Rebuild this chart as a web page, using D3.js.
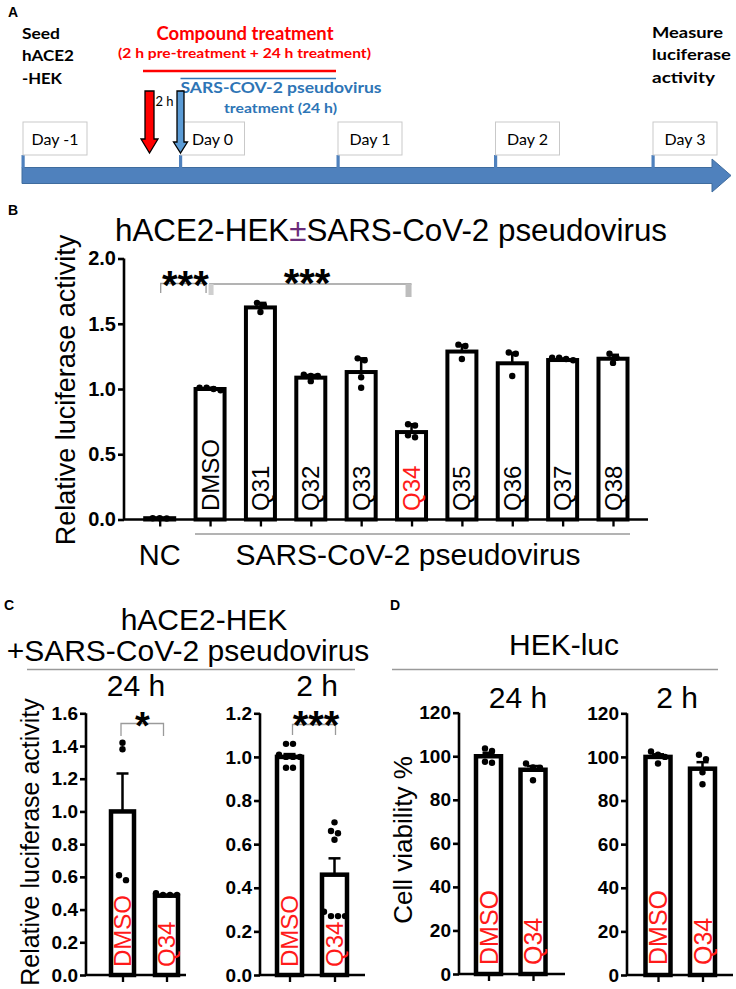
<!DOCTYPE html>
<html><head><meta charset="utf-8">
<script src="https://cdn.jsdelivr.net/npm/d3@7"></script>
<style>
body{margin:0;background:#fff}
svg{display:block}
text{font-family:"Liberation Sans",Arial,sans-serif}
</style></head>
<body><svg id="fig" width="736" height="989"></svg>
<script>
// ---------------- DATA ----------------
// Panel A timeline
const timelineDays = [-1, 0, 1, 2, 3];
const dayLabels = ["Day -1", "Day 0", "Day 1", "Day 2", "Day 3"];

// Panel B
const bCategories = ["NC","DMSO","Q31","Q32","Q33","Q34","Q35","Q36","Q37","Q38"];
const bMeans  = [0.01, 1.00, 1.625, 1.087, 1.13, 0.67, 1.287, 1.197, 1.222, 1.232];
const bErrors = [0.0, 0.01, 0.035, 0.02, 0.105, 0.06, 0.05, 0.08, 0.012, 0.03];
const bPoints = [
  [0.01, 0.008, 0.01],
  [0.99, 1.01, 1.01, 1.0],
  [1.66, 1.64, 1.59],
  [1.11, 1.06, 1.10, 1.10],
  [1.235, 1.22, 1.09, 1.01],
  [0.73, 0.72, 0.63, 0.645],
  [1.34, 1.33, 1.23],
  [1.28, 1.27, 1.10],
  [1.24, 1.23, 1.22, 1.24],
  [1.27, 1.24, 1.20]
];
const bYTicks = [0, 0.5, 1.0, 1.5, 2.0];

// Panel C (hACE2-HEK + pseudovirus)
const cGroups = ["DMSO", "Q34"];
const c24Means = [1.0, 0.485];
const c24Errors = [0.232, 0.004];
const c24Points = [[1.42, 1.38, 0.58, 0.61], [0.49, 0.50, 0.49, 0.49]];
const c24YTicks = [0, 0.2, 0.4, 0.6, 0.8, 1.0, 1.2, 1.4, 1.6];
const c2Means = [1.0, 0.46];
const c2Errors = [0.013, 0.075];
const c2Points = [[1.06, 1.06, 1.0, 1.0, 1.01, 1.0, 0.95, 0.95], [0.70, 0.66, 0.65, 0.62, 0.29, 0.27, 0.27, 0.27]];
const c2YTicks = [0, 0.2, 0.4, 0.6, 0.8, 1.0, 1.2];

// Panel D (HEK-luc viability)
const d24Means = [100, 93.8];
const d24Errors = [1.6, 1.7];
const d24Points = [[102.4, 103.6, 97, 97.5], [94.7, 96.7, 94.8, 89]];
const d2Means = [100, 94.6];
const d2Errors = [1.2, 3.0];
const d2Points = [[102.5, 101, 97, 100], [101, 99, 93, 87.5]];
const dYTicks = [0, 20, 40, 60, 80, 100, 120];

// ---------------- HELPERS ----------------
const svg = d3.select("#fig");
const RED = "#ff1a1a";

function txt(g, s, x, y, o = {}) {
  const t = g.append("text").attr("x", x).attr("y", y).text(s)
    .attr("font-size", o.size || 14)
    .attr("font-weight", o.weight || "normal")
    .attr("fill", o.fill || "#000")
    .attr("text-anchor", o.anchor || "start");
  if (o.family) t.style("font-family", o.family);
  if (o.width) t.attr("textLength", o.width).attr("lengthAdjust", "spacingAndGlyphs");
  if (o.rotate) t.attr("transform", `rotate(${o.rotate},${x},${y})`);
  if (o.baseline) t.attr("dominant-baseline", o.baseline);
  return t;
}

function swarm(vals, y, r) {
  const sorted = vals.map(v => ({ v })).sort((a, b) => b.v - a.v);
  const rows = [];
  sorted.forEach(p => {
    const py = y(p.v);
    const row = rows.find(rw => Math.abs(rw.y0 - py) < 2 * r);
    if (row) row.pts.push(p); else rows.push({ y0: py, pts: [p] });
  });
  const out = [];
  rows.forEach(rw => rw.pts.forEach((p, k) => out.push({ v: p.v, dx: (k - (rw.pts.length - 1) / 2) * (2 * r + 0.6) })));
  return out;
}

// generic bar chart with dots
function barChart(g, cfg) {
  const { cats, means, errors, points, yTicks, x, y, barW, barStroke, tickFmt, tickSize, labelColors, labelSize, labelBottom, axisX0, axisX1, axisStroke } = cfg;
  const yAx = d3.axisLeft(y).tickValues(yTicks).tickFormat(tickFmt).tickSizeOuter(0).tickSize(6).tickPadding(2);
  const ya = g.append("g").attr("transform", `translate(${axisX0},0)`).call(yAx);
  ya.select(".domain").attr("stroke-width", axisStroke).attr("d", `M0,${y(yTicks[yTicks.length-1])}V${y(0)}`);
  ya.selectAll(".tick line").attr("stroke-width", axisStroke);
  ya.selectAll(".tick text").attr("font-size", tickSize).attr("font-weight", "bold")
    .style("font-family", "'Liberation Sans',Arial,sans-serif").attr("fill", "#000");
  const xAx = d3.axisBottom(x).tickFormat("").tickSize(7).tickSizeOuter(0);
  const xa = g.append("g").attr("transform", `translate(0,${y(0)})`).call(xAx);
  xa.select(".domain").attr("stroke-width", axisStroke).attr("d", `M${axisX0},0H${axisX1}`);
  xa.selectAll(".tick line").attr("stroke-width", axisStroke * 0.9);
  g.selectAll(null).data(cats).enter().append("rect")
    .attr("x", d => x(d) - barW / 2)
    .attr("y", (d, i) => y(means[i]))
    .attr("width", barW)
    .attr("height", (d, i) => y(0) - y(means[i]))
    .attr("fill", "#fff").attr("stroke", "#000").attr("stroke-width", barStroke);
  cats.forEach((c, i) => {
    if (errors[i] <= 0) return;
    const cx = x(c), y0 = y(means[i]), y1 = y(means[i] + errors[i]);
    g.append("line").attr("x1", cx).attr("x2", cx).attr("y1", y0).attr("y2", y1).attr("stroke", "#000").attr("stroke-width", 2.5);
    g.append("line").attr("x1", cx - 6).attr("x2", cx + 6).attr("y1", y1).attr("y2", y1).attr("stroke", "#000").attr("stroke-width", 2.5);
  });
  cats.forEach((c, i) => {
    swarm(points[i], y, 3.2).forEach(p => {
      g.append("circle").attr("cx", x(c) + p.dx).attr("cy", y(p.v)).attr("r", 3.2).attr("fill", "#000");
    });
  });
  if (labelColors) {
    cats.forEach((c, i) => {
      if (!labelColors[i]) return;
      txt(g, c, x(c), labelBottom, { size: labelSize, fill: labelColors[i], rotate: -90, baseline: "central" });
    });
  }
}

// ---------------- PANEL A ----------------
(function () {
  const g = svg.append("g");
  const fA = "Lato,'Open Sans',sans-serif";
  txt(g, "A", 8, 17, { size: 14, weight: "bold" });
  const dx = d3.scaleLinear().domain([-1, 3]).range([23, 653]);
  g.append("path")
    .attr("d", `M22,167.5H712V159L731,175.5L712,192V183.5H22Z`)
    .attr("fill", "#4f81bd").attr("stroke", "#3f6c9e").attr("stroke-width", 1);
  g.selectAll(null).data(timelineDays).enter().append("rect")
    .attr("x", d => dx(d) - 1.5).attr("y", 155).attr("width", 3.2).attr("height", 13).attr("fill", "#4f81bd");
  g.selectAll(null).data(timelineDays).enter().append("rect")
    .attr("x", d => dx(d)).attr("y", 122).attr("width", 64).attr("height", 33)
    .attr("fill", "#fff").attr("stroke", "#c9c9c9").attr("stroke-width", 1);
  timelineDays.forEach((d, i) => txt(g, dayLabels[i], dx(d) + 32, 144.5, { size: 16, anchor: "middle", family: fA }));
  txt(g, "Seed", 22, 39, { size: 16, weight: "bold", family: fA, width: 38 });
  txt(g, "hACE2", 22, 61, { size: 16, weight: "bold", family: fA, width: 52 });
  txt(g, "-HEK", 22, 84, { size: 16, weight: "bold", family: fA, width: 40 });
  txt(g, "Measure", 652, 38, { size: 16, weight: "bold", family: fA, width: 71 });
  txt(g, "luciferase", 652, 60, { size: 16, weight: "bold", family: fA, width: 79 });
  txt(g, "activity", 652, 83, { size: 16, weight: "bold", family: fA, width: 63 });
  txt(g, "Compound treatment", 245, 40, { size: 18, weight: "bold", fill: "#ff0000", anchor: "middle", family: fA, width: 177 });
  txt(g, "(2 h pre-treatment + 24 h treatment)", 244.5, 58, { size: 14, weight: "bold", fill: "#ff0000", anchor: "middle", family: fA, width: 253 });
  g.append("line").attr("x1", 143).attr("x2", 336).attr("y1", 71).attr("y2", 71).attr("stroke", "#ff0000").attr("stroke-width", 2.5);
  g.append("line").attr("x1", dx(0)).attr("x2", 336).attr("y1", 78.5).attr("y2", 78.5).attr("stroke", "#2e75b6").attr("stroke-width", 1.6);
  txt(g, "SARS-COV-2 pseudovirus", dx(0), 93, { size: 16, weight: "bold", fill: "#2e75b6", family: fA, width: 201 });
  txt(g, "treatment (24 h)", 280.5, 113, { size: 13, weight: "bold", fill: "#2e75b6", anchor: "middle", family: fA, width: 113 });
  const ax0 = dx(0);
  function downArrow(cx, w, hw, top, neck, tip, fill) {
    g.append("path")
      .attr("d", `M${cx - w / 2},${top}H${cx + w / 2}V${neck}H${cx + hw / 2}L${cx},${tip}L${cx - hw / 2},${neck}H${cx - w / 2}Z`)
      .attr("fill", fill).attr("stroke", "#000").attr("stroke-width", 1.3);
  }
  downArrow(ax0 - 31, 9, 17, 91, 139, 153, "#ff0000");
  downArrow(ax0, 7, 14, 91, 142, 153, "#5b9bd5");
  txt(g, "2 h", ax0 - 25, 106, { size: 13, family: fA });
})();

// ---------------- PANEL B ----------------
(function () {
  const g = svg.append("g");
  txt(g, "B", 8, 215, { size: 14, weight: "bold" });
  const t = g.append("text").attr("x", 391).attr("y", 241).attr("text-anchor", "middle").attr("font-size", 31)
    .attr("textLength", 552).attr("lengthAdjust", "spacingAndGlyphs");
  t.append("tspan").text("hACE2-HEK");
  t.append("tspan").text("±").attr("fill", "#6b2c7a");
  t.append("tspan").text("SARS-CoV-2 pseudovirus");

  const y = d3.scaleLinear().domain([0, 2]).range([519.5, 258.5]);
  const x = d3.scalePoint().domain(bCategories).range([159.7, 613]);
  barChart(g, {
    cats: bCategories, means: bMeans, errors: bErrors, points: bPoints, yTicks: bYTicks,
    x, y, barW: 29, barStroke: 4, tickFmt: d3.format(".1f"), tickSize: 20,
    labelColors: bCategories.map(c => c === "NC" ? null : (c === "Q34" ? RED : "#000")),
    labelSize: 24, labelBottom: 511, axisX0: 124, axisX1: 648, axisStroke: 2.6
  });
  txt(g, "Relative luciferase activity", 75, 390, { size: 27, rotate: -90, anchor: "middle" });
  const gray = "#9a9a9a";
  g.append("path").attr("d", `M${x("NC") + 1},293V283.5H${x("DMSO") - 4}V293`).attr("fill", "none").attr("stroke", gray).attr("stroke-width", 1.3);
  txt(g, "***", (x("NC") + x("DMSO")) / 2 + 0.5, 299, { size: 40, weight: "bold", anchor: "middle" });
  g.append("path").attr("d", `M${x("DMSO") - 1},284H${x("Q34")}`).attr("fill", "none").attr("stroke", gray).attr("stroke-width", 1.3);
  g.append("rect").attr("x", x("DMSO") - 1.5).attr("y", 284).attr("width", 5).attr("height", 11).attr("fill", "#cfcfcf");
  g.append("rect").attr("x", x("Q34") - 6).attr("y", 284).attr("width", 6).attr("height", 13).attr("fill", "#bdbdbd");
  txt(g, "***", 307, 297, { size: 40, weight: "bold", anchor: "middle" });
  g.append("line").attr("x1", 195).attr("x2", 630).attr("y1", 534).attr("y2", 534).attr("stroke", "#9a9a9a").attr("stroke-width", 1.5);
  txt(g, "NC", x("NC"), 565, { size: 29, anchor: "middle" });
  txt(g, "SARS-CoV-2 pseudovirus", 408, 565, { size: 30, anchor: "middle" });
})();

// ---------------- PANEL C ----------------
(function () {
  const g = svg.append("g");
  txt(g, "C", 4, 610, { size: 14, weight: "bold" });
  txt(g, "hACE2-HEK", 204, 630, { size: 30, anchor: "middle" });
  txt(g, "+SARS-CoV-2 pseudovirus", 188, 661, { size: 30, anchor: "middle" });
  g.append("line").attr("x1", 27).attr("x2", 355).attr("y1", 669.5).attr("y2", 669.5).attr("stroke", "#9a9a9a").attr("stroke-width", 1.5);
  txt(g, "24 h", 136, 696, { size: 30, anchor: "middle" });
  txt(g, "2 h", 317, 696, { size: 30, anchor: "middle" });
  txt(g, "Relative luciferase activity", 39, 842, { size: 25, rotate: -90, anchor: "middle" });

  const gray = "#9a9a9a";
  const y1 = d3.scaleLinear().domain([0, 1.6]).range([975, 713.3]);
  const x1 = d3.scalePoint().domain(cGroups).range([122.5, 166.5]);
  barChart(g, {
    cats: cGroups, means: c24Means, errors: c24Errors, points: c24Points, yTicks: c24YTicks,
    x: x1, y: y1, barW: 23, barStroke: 4.5, tickFmt: d3.format(".1f"), tickSize: 19,
    labelColors: [RED, RED], labelSize: 24, labelBottom: 967, axisX0: 86, axisX1: 186, axisStroke: 2.6
  });
  g.append("path").attr("d", `M${x1("DMSO") - 1.5},736V723.5H${x1("Q34") - 3}V736`).attr("fill", "none").attr("stroke", gray).attr("stroke-width", 1.3);
  txt(g, "*", 142.5, 739, { size: 38, weight: "bold", anchor: "middle" });
  const y2 = d3.scaleLinear().domain([0, 1.2]).range([975, 713.3]);
  const x2 = d3.scalePoint().domain(cGroups).range([289.5, 334.5]);
  barChart(g, {
    cats: cGroups, means: c2Means, errors: c2Errors, points: c2Points, yTicks: c2YTicks,
    x: x2, y: y2, barW: 25, barStroke: 4.5, tickFmt: d3.format(".1f"), tickSize: 19,
    labelColors: [RED, RED], labelSize: 24, labelBottom: 967, axisX0: 260, axisX1: 365, axisStroke: 2.6
  });
  g.append("path").attr("d", `M${x2("DMSO") + 3},735V724.5H${x2("Q34") + 1}V735`).attr("fill", "none").attr("stroke", gray).attr("stroke-width", 1.3);
  txt(g, "***", 316, 739, { size: 40, weight: "bold", anchor: "middle" });
})();

// ---------------- PANEL D ----------------
(function () {
  const g = svg.append("g");
  txt(g, "D", 390, 610, { size: 14, weight: "bold" });
  txt(g, "HEK-luc", 564, 655, { size: 30, anchor: "middle" });
  g.append("line").attr("x1", 392).attr("x2", 718).attr("y1", 669.5).attr("y2", 669.5).attr("stroke", "#9a9a9a").attr("stroke-width", 1.5);
  txt(g, "24 h", 518, 708, { size: 30, anchor: "middle" });
  txt(g, "2 h", 677, 708, { size: 30, anchor: "middle" });
  txt(g, "Cell viability %", 412, 840, { size: 26, rotate: -90, anchor: "middle" });

  const y1 = d3.scaleLinear().domain([0, 120]).range([974, 712.7]);
  const x1 = d3.scalePoint().domain(cGroups).range([488.5, 533]);
  barChart(g, {
    cats: cGroups, means: d24Means, errors: d24Errors, points: d24Points, yTicks: dYTicks,
    x: x1, y: y1, barW: 25, barStroke: 4.5, tickFmt: d3.format("d"), tickSize: 19,
    labelColors: [RED, RED], labelSize: 25, labelBottom: 965, axisX0: 459, axisX1: 565, axisStroke: 2.6
  });
  const y2 = d3.scaleLinear().domain([0, 120]).range([975, 713.3]);
  const x2 = d3.scalePoint().domain(cGroups).range([658, 702.5]);
  barChart(g, {
    cats: cGroups, means: d2Means, errors: d2Errors, points: d2Points, yTicks: dYTicks,
    x: x2, y: y2, barW: 25, barStroke: 4.5, tickFmt: d3.format("d"), tickSize: 19,
    labelColors: [RED, RED], labelSize: 25, labelBottom: 965, axisX0: 627, axisX1: 733, axisStroke: 2.6
  });
})();
</script>
</body></html>
